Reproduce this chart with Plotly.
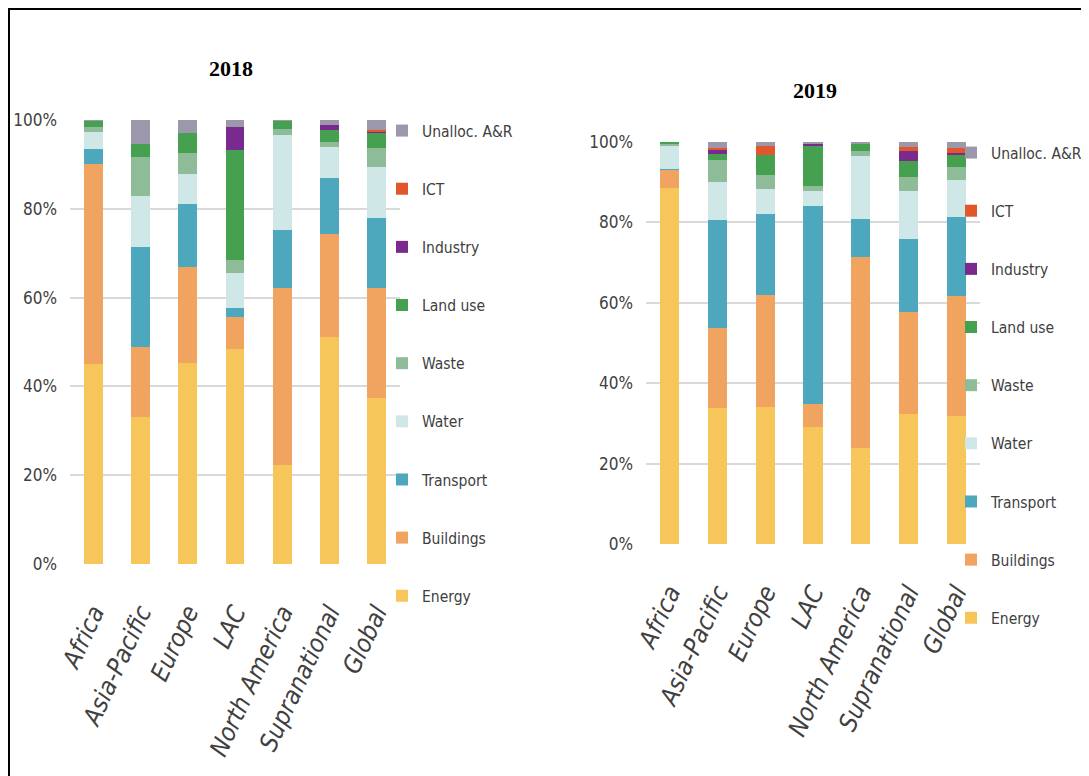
import plotly.graph_objects as go

categories = ["Africa", "Asia-Pacific", "Europe", "LAC", "North America", "Supranational", "Global"]
series_names = ["Energy", "Buildings", "Transport", "Water", "Waste", "Land use", "Industry", "ICT", "Unalloc. A&R"]
series_colors = ["#F6C65B", "#F0A45F", "#4EA8BD", "#CFE7E6", "#8FBC98", "#45A04F", "#7A2A8E", "#E2562B", "#9C97AA"]

# 2018 shares (%)
energy_2018 = [45.0, 33.2, 45.2, 48.4, 22.3, 51.1, 37.3]
buildings_2018 = [45.2, 15.7, 21.8, 7.3, 39.8, 23.2, 24.8]
transport_2018 = [3.2, 22.6, 14.1, 1.9, 13.1, 12.7, 15.8]
water_2018 = [3.8, 11.4, 6.7, 8.0, 21.4, 7.0, 11.6]
waste_2018 = [1.3, 8.8, 4.7, 2.9, 1.3, 1.1, 4.1]
landuse_2018 = [1.3, 2.9, 4.5, 24.7, 2.0, 2.6, 3.4]
industry_2018 = [0.0, 0.0, 0.0, 5.3, 0.0, 1.2, 0.5]
ict_2018 = [0.0, 0.0, 0.0, 0.0, 0.0, 0.0, 0.2]
unalloc_2018 = [0.2, 5.4, 3.0, 1.5, 0.1, 1.1, 2.3]

# 2019 shares (%)
energy_2019 = [88.6, 33.8, 34.2, 29.1, 23.9, 32.3, 31.9]
buildings_2019 = [4.5, 19.9, 27.8, 5.8, 47.5, 25.3, 29.7]
transport_2019 = [0.3, 27.0, 20.2, 49.1, 9.4, 18.3, 19.7]
water_2019 = [5.6, 9.3, 6.1, 3.9, 15.6, 11.8, 9.3]
waste_2019 = [0.5, 5.6, 3.6, 1.1, 1.4, 3.7, 3.3]
landuse_2019 = [0.5, 1.5, 4.9, 10.1, 1.9, 3.8, 2.9]
industry_2019 = [0.0, 1.1, 0.0, 0.4, 0.0, 2.5, 0.4]
ict_2019 = [0.0, 0.2, 2.1, 0.0, 0.0, 1.1, 1.2]
unalloc_2019 = [0.0, 1.6, 1.1, 0.5, 0.3, 1.2, 1.6]

data_2018 = [energy_2018, buildings_2018, transport_2018, water_2018, waste_2018,
             landuse_2018, industry_2018, ict_2018, unalloc_2018]
data_2019 = [energy_2019, buildings_2019, transport_2019, water_2019, waste_2019,
             landuse_2019, industry_2019, ict_2019, unalloc_2019]

NARROW = "Liberation Sans Narrow, Arial Narrow, DejaVu Sans Condensed, sans-serif"
TEXT = "#404040"

fig = go.Figure()
n = len(series_names)
for i, (name, color, vals) in enumerate(zip(series_names, series_colors, data_2018)):
    fig.add_trace(go.Bar(x=categories, y=vals, name=name, marker=dict(color=color, line=dict(width=0)),
                         xaxis="x", yaxis="y", legend="legend", legendgroup="a_" + name,
                         legendrank=100 + (n - i)))
for i, (name, color, vals) in enumerate(zip(series_names, series_colors, data_2019)):
    fig.add_trace(go.Bar(x=categories, y=vals, name=name, marker=dict(color=color, line=dict(width=0)),
                         xaxis="x2", yaxis="y2", legend="legend2", legendgroup="b_" + name,
                         legendrank=100 + (n - i)))

# the page body has an 8px margin: layout numbers below are page pixels
OFF = 8
W, H = 1089 - OFF, 776 - OFF

def px_x(v):
    return (v - OFF) / W

def px_y(v):
    return 1 - (v - OFF) / H

yaxis_common = dict(range=[0, 100], dtick=20, ticksuffix="%", showgrid=True, gridcolor="#D9D9D9",
                    gridwidth=1.5, zeroline=False, showline=False, ticks="", automargin=False,
                    ticklabelstandoff=12,
                    tickfont=dict(family=NARROW, size=17, color=TEXT))
xaxis_common = dict(showgrid=False, showline=False, ticks="", tickangle=-65, automargin=False,
                    ticklabelstandoff=28,
                    tickfont=dict(family=NARROW, size=25, color=TEXT, style="italic"))

legend_common = dict(xanchor="left", yanchor="top", traceorder="grouped", tracegroupgap=35,
                     font=dict(family=NARROW, size=15.5, color=TEXT), bgcolor="rgba(0,0,0,0)",
                     itemwidth=30)

title_font = dict(family="Liberation Serif, Times New Roman, serif", size=22, color="black")

fig.update_layout(
    width=W, height=H,
    margin=dict(l=0, r=0, t=0, b=0, autoexpand=False),
    paper_bgcolor="white", plot_bgcolor="white",
    barmode="stack", bargap=0.6,
    xaxis=dict(domain=[px_x(70), px_x(400)], anchor="y", **xaxis_common),
    yaxis=dict(domain=[px_y(564), px_y(120)], anchor="x", **yaxis_common),
    xaxis2=dict(domain=[px_x(646), px_x(980)], anchor="y2", **xaxis_common),
    yaxis2=dict(domain=[px_y(544), px_y(142)], anchor="x2", **yaxis_common),
    legend=dict(x=px_x(382), y=px_y(114), **legend_common),
    legend2=dict(x=px_x(951), y=px_y(136), **legend_common),
    annotations=[
        dict(text="<b>2018</b>", x=px_x(231), y=px_y(68), xref="paper", yref="paper", showarrow=False,
             xanchor="center", yanchor="middle", font=title_font),
        dict(text="<b>2019</b>", x=px_x(815), y=px_y(90), xref="paper", yref="paper", showarrow=False,
             xanchor="center", yanchor="middle", font=title_font),
    ],
    shapes=[dict(type="rect", xref="paper", yref="paper", x0=px_x(9), x1=px_x(1085), y0=px_y(800), y1=px_y(9),
                 line=dict(color="black", width=2), fillcolor="rgba(0,0,0,0)")],
)

fig.write_html("out.html")
